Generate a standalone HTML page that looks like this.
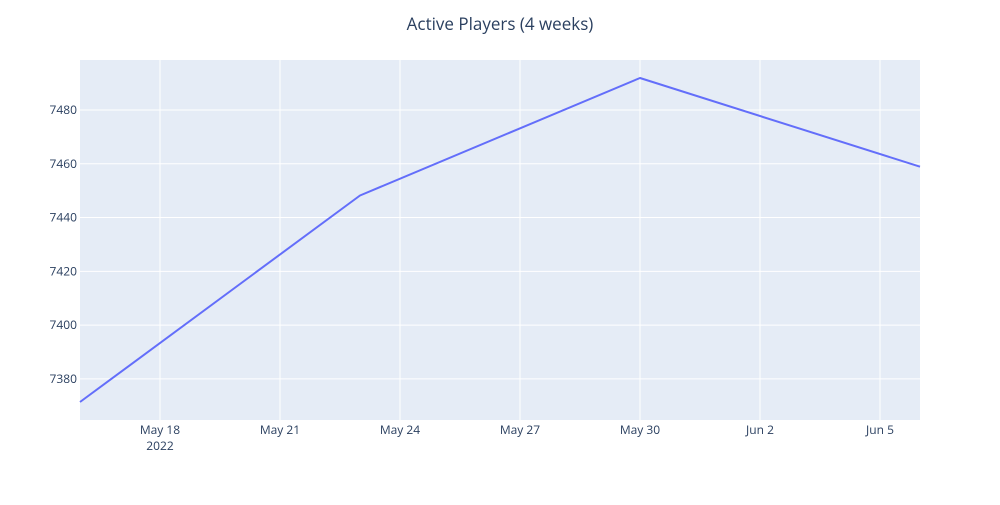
<!DOCTYPE html>
<html><head><meta charset="utf-8">
<style>
body{margin:0;background:#fff;}
svg text{font-family:"Open Sans","Liberation Sans",sans-serif;}
</style></head>
<body>
<svg id="chart" width="1000" height="500" xmlns="http://www.w3.org/2000/svg">
<rect x="0" y="0" width="1000" height="500" fill="#fff"/>
<rect x="80" y="60" width="840" height="360" fill="#e5ecf6"/>
<g id="grid"></g>
<g id="series"></g>
<g id="xaxis"></g>
<g id="yaxis"></g>
<text x="500" y="30" text-anchor="middle" font-size="17" fill="#2a3f5f">Active Players (4 weeks)</text>
</svg>
<script>
const dates = ["2022-05-16","2022-05-23","2022-05-30","2022-06-06"];
const players = [7371.4, 7448.2, 7491.9, 7458.9];
const xTickDates = ["2022-05-18","2022-05-21","2022-05-24","2022-05-27","2022-05-30","2022-06-02","2022-06-05"];
const xTickLabels = ["May 18","May 21","May 24","May 27","May 30","Jun 2","Jun 5"];
const yTicks = [7380, 7400, 7420, 7440, 7460, 7480];

const NS = "http://www.w3.org/2000/svg";
const L=80,R=920,T=60,B=420;
const day = s => Date.parse(s+"T00:00:00Z")/86400000;
const x0 = day(dates[0]), x1 = day(dates[dates.length-1]);
const ymin = Math.min(...players), ymax = Math.max(...players);
const pad = (ymax-ymin)*0.0555;
const y0 = ymin-pad, y1 = ymax+pad;
const X = s => L + (day(s)-x0)/(x1-x0)*(R-L);
const Y = v => B - (v-y0)/(y1-y0)*(B-T);
function mk(tag, attrs, parent){const e=document.createElementNS(NS,tag);for(const k in attrs)e.setAttribute(k,attrs[k]);parent.appendChild(e);return e;}
const grid=document.getElementById('grid'), xa=document.getElementById('xaxis'), ya=document.getElementById('yaxis'), ser=document.getElementById('series');

xTickDates.forEach((d,i)=>{
  const x=X(d);
  const g=mk('line',{x1:x,x2:x,y1:T,y2:B,stroke:'#fff','stroke-width':1},grid);
  
  
  const t=mk('text',{x:x,y:B+14,'text-anchor':'middle','font-size':12,fill:'#2a3f5f'},xa);
  t.textContent=xTickLabels[i];
  
  
  if(i===0){
    const yr=mk('text',{x:x,y:B+30,'text-anchor':'middle','font-size':12,fill:'#2a3f5f'},xa);
    yr.textContent="2022";
    
    
  }
});
yTicks.forEach(v=>{
  const y=Y(v);
  const g=mk('line',{x1:L,x2:R,y1:y,y2:y,stroke:'#fff','stroke-width':1},grid);
  
  
  const t=mk('text',{x:L-3,y:y+4,'text-anchor':'end','font-size':12,fill:'#2a3f5f'},ya);
  t.textContent=String(v);
  
  
});
const pts=dates.map((d,i)=>X(d).toFixed(1)+','+Y(players[i]).toFixed(1)).join(' ');
const line=mk('polyline',{points:pts,fill:'none',stroke:'#636efa','stroke-width':2,'stroke-linejoin':'round'},ser);


</script>
</body></html>
